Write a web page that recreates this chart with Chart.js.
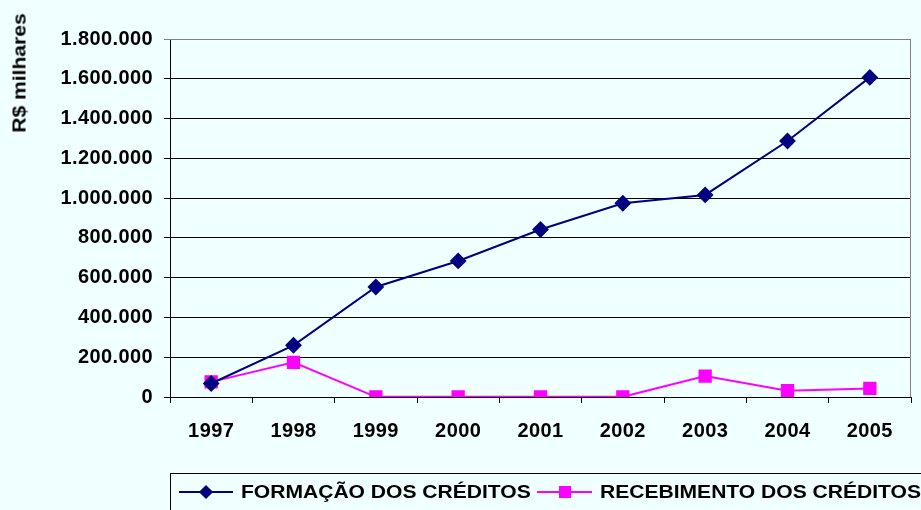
<!DOCTYPE html>
<html>
<head>
<meta charset="utf-8">
<script src="https://cdn.jsdelivr.net/npm/chart.js@4/dist/chart.umd.min.js"></script>
<style>
  body { margin: 0; background: #F0FFFF; font-family: "Liberation Sans", Arial, sans-serif; }
  #wrap { position: relative; width: 921px; height: 510px; overflow: hidden; background: #F0FFFF; }
  #chart { position: absolute; left: 0; top: 0; }
  .ytitle { position: absolute; left: 20px; top: 73px; font-weight: bold; font-size: 18px; white-space: nowrap;
            transform: translate(-50%, -50%) rotate(-90deg) scaleX(1.17); color: #000; }
  .legend { position: absolute; left: 170px; top: 473px; width: 780px; height: 60px; border: 1px solid #000; box-sizing: border-box; }
  .legend .ln { position: absolute; height: 2px; top: 17px; }
  .legend .mk { position: absolute; }
  .legend .tx { position: absolute; top: 8px; font-weight: bold; font-size: 18px; line-height: 20px; white-space: nowrap;
                transform: scaleX(1.17); transform-origin: left center; color: #000; }
</style>
</head>
<body>
<div id="wrap">
  <canvas id="chart" width="921" height="510"></canvas>
  <div class="ytitle">R$ milhares</div>
  <div class="legend" id="legend"></div>
</div>
<script>
const years = ['1997', '1998', '1999', '2000', '2001', '2002', '2003', '2004', '2005'];
const formacao = [68000, 260000, 553000, 684000, 842000, 974000, 1016000, 1287000, 1607000];
const recebimento = [76000, 174000, 1000, 1000, 1000, 1000, 105000, 32000, 43000];
const seriesNames = ['FORMAÇÃO DOS CRÉDITOS', 'RECEBIMENTO DOS CRÉDITOS'];
const seriesColors = ['#000080', '#FF00FF'];

const fontFamily = '"Liberation Sans", Arial, sans-serif';
const tickFont = { family: fontFamily, size: 20, weight: 'bold' };

function fmt(v) {
  return String(v).replace(/\B(?=(\d{3})+(?!\d))/g, '.');
}

// widen text a little like the original rendering
const spacing = {
  id: 'spacing',
  beforeLayout(chart) { chart.ctx.letterSpacing = '0.4px'; },
  beforeDraw(chart) { chart.ctx.letterSpacing = '0.4px'; }
};

// grey plot frame on top and right
const frame = {
  id: 'frame',
  afterDraw(chart) {
    const { ctx, chartArea: a } = chart;
    ctx.save();
    ctx.strokeStyle = '#808080';
    ctx.lineWidth = 1;
    ctx.beginPath();
    ctx.moveTo(a.left, a.top + 0.5);
    ctx.lineTo(a.right - 0.5, a.top + 0.5);
    ctx.lineTo(a.right - 0.5, a.bottom);
    ctx.stroke();
    ctx.restore();
  }
};

new Chart(document.getElementById('chart').getContext('2d'), {
  type: 'line',
  data: {
    labels: years,
    datasets: [
      {
        label: seriesNames[0],
        data: formacao,
        borderColor: seriesColors[0],
        backgroundColor: seriesColors[0],
        borderWidth: 2,
        pointStyle: 'rectRot',
        pointRadius: 7,
        tension: 0
      },
      {
        label: seriesNames[1],
        data: recebimento,
        borderColor: seriesColors[1],
        backgroundColor: seriesColors[1],
        borderWidth: 2,
        pointStyle: 'rect',
        pointRadius: 8,
        tension: 0
      }
    ]
  },
  options: {
    responsive: false,
    animation: false,
    layout: { padding: { top: 39, right: 1, left: 0, bottom: 0 } },
    plugins: {
      legend: { display: false },
      tooltip: { enabled: false }
    },
    scales: {
      x: {
        offset: true,
        afterFit: (s) => { s.height = 113; },
        grid: { drawOnChartArea: false, color: '#000', tickLength: 6, offset: true },
        border: { color: '#000', width: 1 },
        ticks: { color: '#000', font: tickFont, padding: 16, maxRotation: 0 }
      },
      y: {
        min: 0,
        max: 1800000,
        afterFit: (s) => { s.width = 170; },
        grid: {
          color: (c) => (c.tick && c.tick.value === 1800000 ? '#808080' : '#000'),
          tickLength: 6
        },
        border: { color: '#000', width: 1 },
        ticks: { stepSize: 200000, color: '#000', font: tickFont, padding: 11, callback: (v) => fmt(v) }
      }
    }
  },
  plugins: [spacing, frame]
});

// legend below the plot
const legend = document.getElementById('legend');
const items = [
  { line: 8, width: 54, text: 70, shape: 'diamond' },
  { line: 366, width: 55, text: 429, shape: 'square' }
];
items.forEach((it, i) => {
  const ln = document.createElement('div');
  ln.className = 'ln';
  ln.style.left = it.line + 'px';
  ln.style.width = it.width + 'px';
  ln.style.background = seriesColors[i];
  legend.appendChild(ln);
  const mk = document.createElement('div');
  mk.className = 'mk';
  mk.style.background = seriesColors[i];
  const cx = it.line + it.width / 2;
  if (it.shape === 'diamond') {
    mk.style.width = '10px'; mk.style.height = '10px';
    mk.style.left = (cx - 5) + 'px'; mk.style.top = '13px';
    mk.style.transform = 'rotate(45deg)';
  } else {
    mk.style.width = '12px'; mk.style.height = '12px';
    mk.style.left = (cx - 6) + 'px'; mk.style.top = '12px';
  }
  legend.appendChild(mk);
  const tx = document.createElement('div');
  tx.className = 'tx';
  tx.style.left = it.text + 'px';
  tx.textContent = seriesNames[i];
  legend.appendChild(tx);
});
</script>
</body>
</html>
